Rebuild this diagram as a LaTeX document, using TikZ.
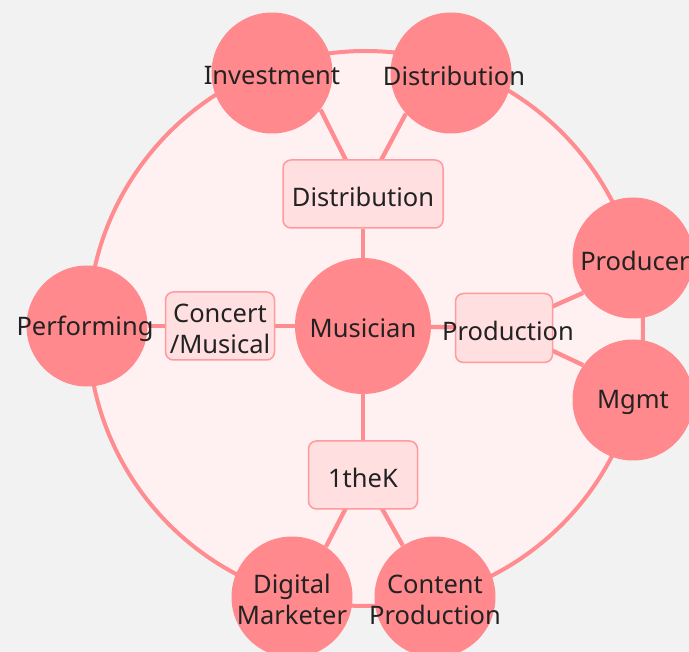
\documentclass[tikz,border=0pt]{standalone}
\usepackage{fontspec}
\setmainfont{Noto Sans}
\usetikzlibrary{backgrounds}
\definecolor{bgc}{HTML}{F2F2F2}
\definecolor{ringfill}{HTML}{FFF1F1}
\definecolor{pinkline}{HTML}{FF8C90}
\definecolor{leafc}{HTML}{FF898D}
\definecolor{boxfill}{HTML}{FFDFE0}
\definecolor{boxline}{HTML}{FF9A9E}
\definecolor{txtc}{HTML}{222222}
\begin{document}
\begin{tikzpicture}[x=1pt,y=-1pt,
  leaf/.style={circle, fill=leafc, minimum size=121pt, inner sep=0pt},
  hub/.style={circle, fill=leafc, minimum size=136pt, inner sep=0pt},
  boxnode/.style={rectangle, rounded corners=8pt, draw=boxline, line width=1.5pt, fill=boxfill, inner sep=0pt},
  txt/.style={text=txtc, font=\fontsize{25.5}{31}\selectfont, align=center, inner sep=0pt, yshift=-2.5pt},
  conn/.style={draw=pinkline, line width=4.3pt}]
\useasboundingbox (0,0) rectangle (689,652);
% nodes
\node[hub] (mus) at (363,326) {};
\node[txt] (mustx) at (mus) {Musician};
\node[boxnode, minimum width=160pt, minimum height=68pt] (dbox) at (363,194) {};
\node[txt] (dboxtx) at (dbox) {Distribution};
\node[boxnode, minimum width=97pt, minimum height=69pt] (pbox) at (504,328) {};
\node[txt, xshift=4pt] (pboxtx) at (pbox) {Production};
\node[boxnode, minimum width=109pt, minimum height=68pt] (cbox) at (220,326) {};
\node[txt] (cboxtx) at (cbox) {Concert\\/Musical};
\node[boxnode, minimum width=109pt, minimum height=68pt] (kbox) at (363,475) {};
\node[txt] (kboxtx) at (kbox) {1theK};
\node[leaf] (inv) at (272,73) {};
\node[txt] (invtx) at (inv) {Investment};
\node[leaf] (dist) at (451,73) {};
\node[txt, xshift=3pt] (disttx) at (dist) {Distribution};
\node[leaf] (prod) at (633,258) {};
\node[txt, xshift=2pt] (prodtx) at (prod) {Producer};
\node[leaf] (mgmt) at (633,400) {};
\node[txt] (mgmttx) at (mgmt) {Mgmt};
\node[leaf] (perf) at (87,326) {};
\node[txt, xshift=-2pt] (perftx) at (perf) {Performing};
\node[leaf] (digi) at (292,597) {};
\node[txt] (digitx) at (digi) {Digital\\Marketer};
\node[leaf] (cont) at (435,597) {};
\node[txt] (conttx) at (cont) {Content\\Production};
\begin{scope}[on background layer]
  \fill[bgc] (0,0) rectangle (689,652);
  \node[circle, draw=pinkline, line width=4pt, fill=ringfill, minimum size=555pt, inner sep=0pt] (ring) at (365.5,328.5) {};
  \draw[conn] (mus) -- (dbox);
  \draw[conn] (mus) -- (pbox);
  \draw[conn] (mus) -- (cbox);
  \draw[conn] (mus) -- (kbox);
  \draw[conn] (perf) -- (cbox);
  \draw[conn] (dbox.center) -- (inv.-37);
  \draw[conn] (dbox.center) -- (dist.-138);
  \draw[conn] (pbox.center) -- (prod.-145);
  \draw[conn] (pbox.center) -- (mgmt.145);
  \draw[conn] (kbox.center) -- (digi.56);
  \draw[conn] (kbox.center) -- (cont.122);
\end{scope}
\end{tikzpicture}
\end{document}
